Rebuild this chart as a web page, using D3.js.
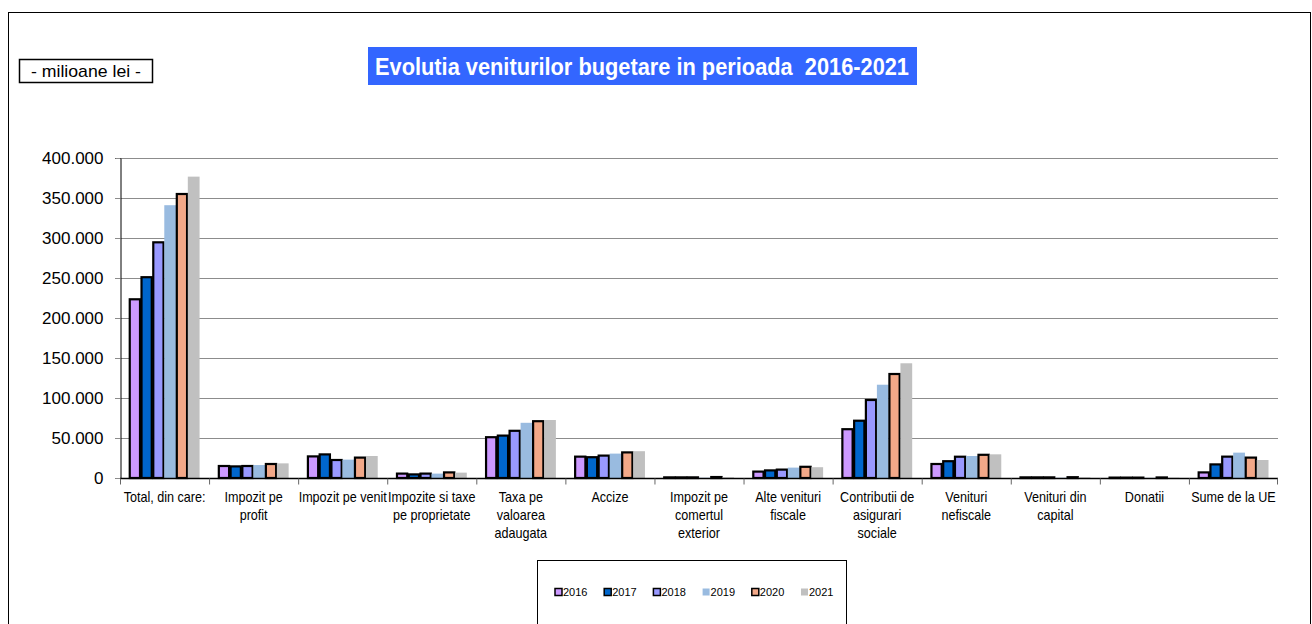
<!DOCTYPE html>
<html><head><meta charset="utf-8">
<script src="https://cdn.jsdelivr.net/npm/d3@7"></script>
<style>
body{margin:0;background:#fff;}
svg{display:block;}
</style></head>
<body>
<svg id="c" width="1312" height="624"></svg>
<script>
const categories = [
  ["Total, din care:"],
  ["Impozit pe","profit"],
  ["Impozit pe venit"],
  ["Impozite si taxe","pe proprietate"],
  ["Taxa pe","valoarea","adaugata"],
  ["Accize"],
  ["Impozit pe","comertul","exterior"],
  ["Alte venituri","fiscale"],
  ["Contributii de","asigurari","sociale"],
  ["Venituri","nefiscale"],
  ["Venituri din","capital"],
  ["Donatii"],
  ["Sume de la UE"]
];
const years = ["2016","2017","2018","2019","2020","2021"];
// values in millions lei, per category, one per year
const v2016 = [223400, 15000, 27000, 5500, 51000, 26700, 800, 8000, 61000, 17500, 800, 500, 7000];
const v2017 = [251000, 14500, 29500, 4500, 53000, 26000, 800, 9500, 71600, 21000, 800, 500, 17000];
const v2018 = [294600, 15000, 22500, 5500, 59000, 28000, 800, 10500, 97500, 26600, 800, 500, 26700];
const v2019 = [341000, 16200, 23000, 5500, 69000, 30500, 300, 13000, 116600, 27500, 300, 200, 31700];
const v2020 = [355000, 17500, 25500, 7000, 71000, 32000, 1200, 14000, 130000, 29000, 1000, 700, 25500];
const v2021 = [376700, 18300, 27500, 6700, 72500, 33500, 800, 13500, 143400, 29600, 800, 400, 22500];
const yTicks = [0, 50000, 100000, 150000, 200000, 250000, 300000, 350000, 400000];
const series = [v2016, v2017, v2018, v2019, v2020, v2021];

const colors = ["#CC99FF", "#0066CC", "#9999FF", "#99BBE0", "#F2A888", "#C0C0C0"];
const stroked = [true, true, true, false, true, false];

const svg = d3.select("#c");
const L = 120, R = 1278, T = 158, B = 478;
const FONT = "Liberation Sans, Arial, sans-serif";

// outer frame
svg.append("rect").attr("x", 8.5).attr("y", 12.5).attr("width", 1302).attr("height", 700)
  .attr("fill", "none").attr("stroke", "#000").attr("stroke-width", 1);

// unit box
svg.append("rect").attr("x", 19.5).attr("y", 59.5).attr("width", 133).attr("height", 23)
  .attr("fill", "#fff").attr("stroke", "#000").attr("stroke-width", 1.5);
svg.append("text").attr("x", 86).attr("y", 77).attr("text-anchor", "middle")
  .attr("font-family", FONT).attr("font-size", 17)
  .attr("textLength", 110).attr("lengthAdjust", "spacingAndGlyphs")
  .text("- milioane lei -");

// title
svg.append("rect").attr("x", 368).attr("y", 47).attr("width", 549).attr("height", 38).attr("fill", "#3366FF");
svg.append("text").attr("x", 375).attr("y", 75)
  .attr("font-family", FONT).attr("font-weight", "bold")
  .attr("font-size", 23).attr("fill", "#fff")
  .attr("textLength", 534).attr("lengthAdjust", "spacingAndGlyphs")
  .text("Evolutia veniturilor bugetare in perioada\u00a0\u00a02016-2021");

const x0 = d3.scaleBand().domain(d3.range(categories.length)).range([L, R]).paddingInner(0).paddingOuter(0);
const x1 = d3.scaleBand().domain(d3.range(years.length)).range([9, x0.bandwidth() - 9.5]).padding(0);
const y = d3.scaleLinear().domain([0, 400000]).range([B, T]);

// gridlines
svg.append("g").selectAll("line").data(yTicks.slice(1)).join("line")
  .attr("x1", L - 5).attr("x2", R).attr("y1", d => Math.round(y(d)) + 0.5).attr("y2", d => Math.round(y(d)) + 0.5)
  .attr("stroke", "#8c8c8c").attr("stroke-width", 1.2);

// y axis
const yAxis = d3.axisLeft(y).tickValues(yTicks).tickSize(5).tickPadding(12)
  .tickFormat(d => d3.format(",")(d).replace(/,/g, "."));
const gy = svg.append("g").attr("transform", `translate(${L + 0.5},0)`).call(yAxis);
gy.select(".domain").attr("stroke", "#000");
gy.selectAll(".tick line").attr("stroke", "#8c8c8c");
gy.selectAll("text").attr("font-family", FONT).attr("font-size", 17).attr("fill", "#000");

// bars
const groups = svg.append("g").selectAll("g").data(categories.map((c, i) => i)).join("g")
  .attr("transform", i => `translate(${x0(i)},0)`);
groups.selectAll("rect").data(i => series.map((s, k) => ({k, v: s[i]}))).join("rect")
  .attr("x", d => x1(d.k) + (stroked[d.k] ? 0.75 : 0))
  .attr("width", d => x1.bandwidth() - (stroked[d.k] ? 1.5 : 0))
  .attr("y", d => y(d.v))
  .attr("height", d => B - y(d.v))
  .attr("fill", d => colors[d.k])
  .attr("stroke", d => stroked[d.k] ? "#000" : "none")
  .attr("stroke-width", 2.2);

// x axis
const xAxis = svg.append("g").attr("transform", `translate(0,${B + 0.5})`);
xAxis.append("line").attr("x1", L).attr("x2", R).attr("stroke", "#000").attr("stroke-width", 1.5);
xAxis.selectAll(".tk").data(d3.range(categories.length + 1)).join("line").attr("class", "tk")
  .attr("x1", i => i < categories.length ? x0(i) + 0.5 : R - 0.5)
  .attr("x2", i => i < categories.length ? x0(i) + 0.5 : R - 0.5)
  .attr("y1", 0).attr("y2", 6).attr("stroke", "#666");
const labels = svg.append("g").selectAll("text").data(categories).join("text")
  .attr("transform", (d, i) => `translate(${x0(i) + x0.bandwidth() / 2},502) scale(0.9,1)`)
  .attr("text-anchor", "middle")
  .attr("font-family", FONT)
  .attr("font-size", 14);
labels.selectAll("tspan").data(d => d).join("tspan")
  .attr("x", 0)
  .attr("dy", (d, j) => j === 0 ? 0 : 18)
  .text(d => d);

// legend
svg.append("rect").attr("x", 537.5).attr("y", 560.5).attr("width", 309).attr("height", 100)
  .attr("fill", "#fff").attr("stroke", "#000").attr("stroke-width", 1);
const lg = svg.append("g").selectAll("g").data(years).join("g")
  .attr("transform", (d, k) => `translate(${555 + k * 49.2},592)`);
lg.append("rect").attr("x", 0).attr("y", -3.5).attr("width", 7).attr("height", 7)
  .attr("fill", (d, k) => colors[k])
  .attr("stroke", (d, k) => stroked[k] ? "#000" : "none").attr("stroke-width", 1.5);
lg.append("text").attr("x", 8).attr("y", 4).attr("font-family", FONT)
  .attr("font-size", 11).text(d => d);
</script>
</body></html>
